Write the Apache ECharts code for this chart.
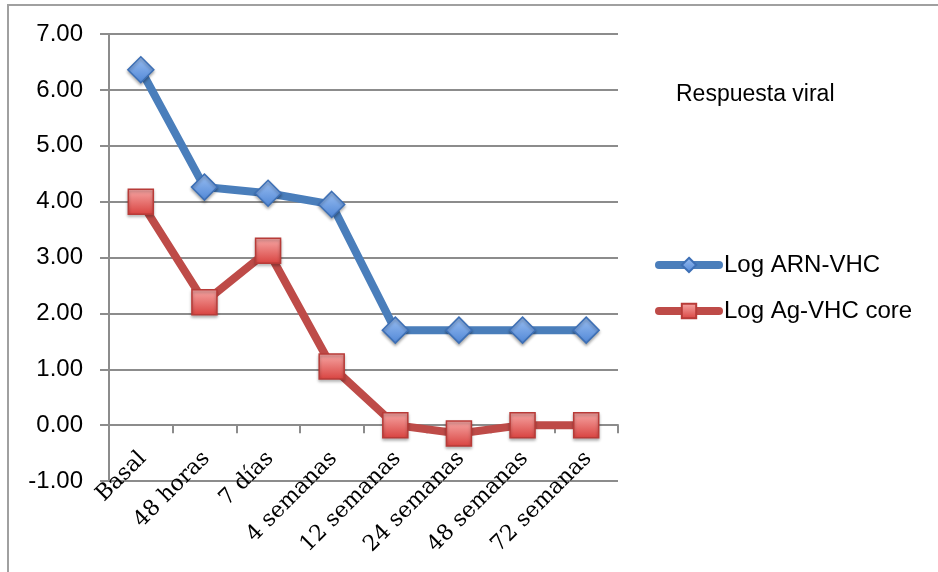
<!DOCTYPE html>
<html>
<head>
<meta charset="utf-8">
<script src="https://cdn.jsdelivr.net/npm/echarts@6/dist/echarts.min.js"></script>
<style>html,body{margin:0;padding:0;background:#fff}#c{width:938px;height:572px}</style>
</head>
<body>
<div id="c"></div>
<script>
var categories = ['Basal', '48 horas', '7 días', '4 semanas', '12 semanas', '24 semanas', '48 semanas', '72 semanas'];
var logARN = [6.36, 4.26, 4.15, 3.95, 1.70, 1.70, 1.70, 1.70];
var logAg = [4.00, 2.20, 3.12, 1.05, 0.00, -0.15, 0.00, 0.00];
var yTicks = { min: -1, max: 7, interval: 1 };
var titleText = 'Respuesta viral';
var seriesNames = ['Log ARN-VHC', 'Log Ag-VHC core'];

var chart = echarts.init(document.getElementById('c'), null, { renderer: 'canvas' });
var gray = '#8c8c8c';
var option = {
  backgroundColor: '#ffffff',
  animation: false,
  title: {
    text: titleText, left: 676, top: 83, padding: 0,
    textStyle: { fontFamily: 'Liberation Sans', fontSize: 23, fontWeight: 'normal', color: '#000' }
  },
  legend: {
    orient: 'vertical', left: 655, top: 253, itemWidth: 60, itemHeight: 18, itemGap: 22, padding: 0,
    textStyle: { fontFamily: 'Liberation Sans', fontSize: 24, color: '#000' },
    lineStyle: { width: 8, cap: 'round' },
    data: seriesNames
  },
  graphic: [{
    type: 'rect', shape: { x: 8, y: 5, width: 960, height: 600 }, silent: true, z: -1,
    style: { fill: 'none', stroke: '#a0a0a0', lineWidth: 2 }
  }],
  grid: { left: 109, right: 320, top: 34, bottom: 91, outerBoundsMode: 'none', containLabel: false },
  xAxis: {
    type: 'category', data: categories, boundaryGap: true,
    axisLine: { onZero: true, lineStyle: { color: gray, width: 2 } },
    axisTick: { show: true, length: 8, lineStyle: { color: gray, width: 2 } },
    axisLabel: {
      rotate: 45, margin: -28, interval: 0, verticalAlign: 'top', lineHeight: 6,
      fontFamily: 'DejaVu Serif', fontSize: 22, color: '#000'
    },
    splitLine: { show: false }
  },
  yAxis: {
    type: 'value', min: yTicks.min, max: yTicks.max, interval: yTicks.interval,
    axisLine: { show: true, lineStyle: { color: gray, width: 2 } },
    axisTick: { show: true, length: 9, lineStyle: { color: gray, width: 2 } },
    axisLabel: {
      margin: 26, fontFamily: 'Liberation Sans', fontSize: 24, color: '#000',
      formatter: function (v) { return v.toFixed(2); }
    },
    splitLine: { show: true, lineStyle: { color: gray, width: 2 } }
  },
  series: [{
    name: seriesNames[0], type: 'line', data: logARN,
    symbol: 'diamond', symbolSize: 26,
    lineStyle: { color: '#4a7ebb', width: 8, cap: 'round', join: 'round' },
    itemStyle: {
      color: new echarts.graphic.LinearGradient(0, 0, 0, 1, [
        { offset: 0, color: '#9cc0f2' }, { offset: 1, color: '#4f86d6' }]),
      borderColor: '#3d6fb5', borderWidth: 1.5,
      shadowBlur: 3, shadowColor: 'rgba(0,0,0,0.3)', shadowOffsetY: 2
    },
    z: 3
  }, {
    name: seriesNames[1], type: 'line', data: logAg,
    symbol: 'rect', symbolSize: 25,
    lineStyle: { color: '#be4b48', width: 8, cap: 'round', join: 'round' },
    itemStyle: {
      color: new echarts.graphic.LinearGradient(0, 0, 0, 1, [
        { offset: 0, color: '#f7a9a7' }, { offset: 1, color: '#d8423f' }]),
      borderColor: '#b83b38', borderWidth: 1.5,
      shadowBlur: 3, shadowColor: 'rgba(0,0,0,0.3)', shadowOffsetY: 2
    },
    z: 2
  }]
};
chart.setOption(option);
</script>
</body>
</html>
